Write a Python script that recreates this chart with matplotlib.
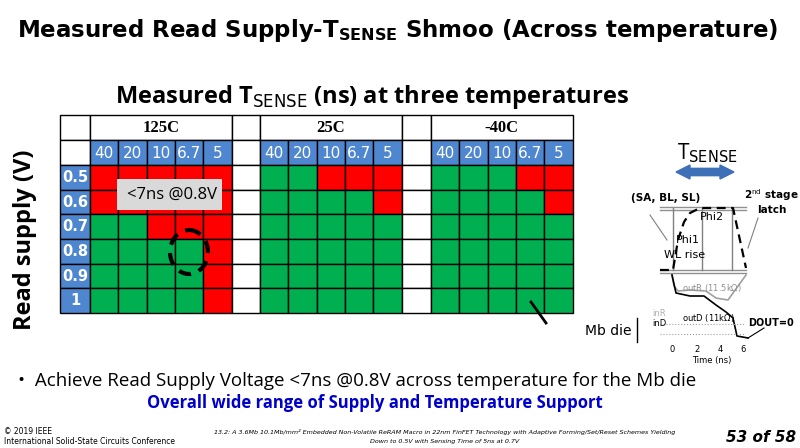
import matplotlib.pyplot as plt
from matplotlib.patches import Rectangle, Ellipse, FancyArrow
import numpy as np

temps = ["125C", "25C", "-40C"]
times = ["40", "20", "10", "6.7", "5"]
supplies = ["0.5", "0.6", "0.7", "0.8", "0.9", "1"]
# 1 = fail (red), 0 = pass (green); rows = supply, cols = time
fail_125 = [[1, 1, 1, 1, 1],
            [1, 1, 1, 1, 1],
            [0, 0, 1, 1, 1],
            [0, 0, 0, 0, 1],
            [0, 0, 0, 0, 1],
            [0, 0, 0, 0, 1]]
fail_25 = [[0, 0, 1, 1, 1],
           [0, 0, 0, 0, 1],
           [0, 0, 0, 0, 0],
           [0, 0, 0, 0, 0],
           [0, 0, 0, 0, 0],
           [0, 0, 0, 0, 0]]
fail_m40 = [[0, 0, 0, 1, 1],
            [0, 0, 0, 0, 1],
            [0, 0, 0, 0, 0],
            [0, 0, 0, 0, 0],
            [0, 0, 0, 0, 0],
            [0, 0, 0, 0, 0]]
fails = [fail_125, fail_25, fail_m40]

RED, GREEN, BLUE = "#FF0000", "#00B050", "#4F86D0"

fig = plt.figure(figsize=(8, 4.48), dpi=100)
ax = fig.add_axes([0, 0, 1, 1])
ax.set_xlim(0, 800)
ax.set_ylim(448, 0)
ax.axis("off")

def cell(x, y, w, h, fc, lw=1.0):
    ax.add_patch(Rectangle((x, y), w, h, facecolor=fc, edgecolor="black", lw=lw))

# title
ax.text(398, 30, r"Measured Read Supply-T$_{\mathbf{SENSE}}$ Shmoo (Across temperature)",
        ha="center", va="center", fontsize=16.5, fontweight="bold", family="DejaVu Sans")
ax.text(372, 97, r"Measured T$_{\mathrm{SENSE}}$ (ns) at three temperatures",
        ha="center", va="center", fontsize=17, fontweight="bold", family="Open Sans")
ax.text(25, 240, "Read supply (V)", rotation=90, ha="center", va="center",
        fontsize=17, fontweight="bold", family="Open Sans")

# grid
x0, lab_w, cw = 60, 30, 28.3
y_head, y_sub, y_data, rh = 115, 140, 165, 24.7
block_x = [90, 260, 431]
# label column
cell(x0, y_head, lab_w, 25, "white")
cell(x0, y_sub, lab_w, 25, "white")
for r, s in enumerate(supplies):
    yy = y_data + r * rh
    cell(x0, yy, lab_w, rh, BLUE)
    ax.text(x0 + lab_w / 2, yy + rh / 2, s, color="white", ha="center", va="center",
            fontsize=10.5, fontweight="bold")
for b, (bx, t) in enumerate(zip(block_x, temps)):
    cell(bx, y_head, 5 * cw, 25, "white")
    ax.text(bx + 2.5 * cw, y_head + 13, t, ha="center", va="center", fontsize=12,
            fontweight="bold", family="Liberation Serif")
    for c, tm in enumerate(times):
        cell(bx + c * cw, y_sub, cw, 25, BLUE)
        ax.text(bx + c * cw + cw / 2, y_sub + 13, tm, color="white", ha="center",
                va="center", fontsize=11)
        for r in range(len(supplies)):
            cell(bx + c * cw, y_data + r * rh, cw, rh, RED if fails[b][r][c] else GREEN)
    if b < 2:
        gx = bx + 5 * cw
        gw = block_x[b + 1] - gx
        cell(gx, y_head, gw, 25, "white")
        cell(gx, y_sub, gw, 25, "white")
        for r in range(len(supplies)):
            cell(gx, y_data + r * rh, gw, rh, "white")

# annotation box and circle
ax.add_patch(Rectangle((117, 179), 105, 31, facecolor="#D9D9D9", edgecolor="none"))
ax.text(127, 195, "<7ns @0.8V", ha="left", va="center", fontsize=12, family="Open Sans")
ax.add_patch(Ellipse((189, 252), 38, 44, fill=False, ls=(0, (3, 2)), lw=3, color="black"))
ax.plot([531, 546], [302, 323], color="black", lw=2)
ax.text(608, 331, "Mb die", ha="center", va="center", fontsize=10)
ax.plot([637, 637], [318, 342], color="black", lw=1)

# timing diagram
ax.text(707, 153, r"T$_{\mathrm{SENSE}}$", ha="center", va="center", fontsize=15, family="Open Sans")
ax.add_patch(FancyArrow(690, 172, 30, 0, width=7, head_width=14, head_length=14,
                        length_includes_head=False, color="#3E70B8"))
ax.add_patch(FancyArrow(720, 172, -30, 0, width=7, head_width=14, head_length=14,
                        length_includes_head=False, color="#3E70B8"))
ax.text(666, 198, "(SA, BL, SL)", ha="center", va="center", fontsize=7.5, fontweight="bold")
ax.text(771, 195, r"2$^{\mathrm{nd}}$ stage", ha="center", va="center", fontsize=7.5, fontweight="bold")
ax.text(772, 210, "latch", ha="center", va="center", fontsize=7.5, fontweight="bold")
for yy in [207, 210, 270, 273]:
    ax.plot([660, 746], [yy, yy], color="#909090", lw=1)
for xx in [673, 702, 732]:
    ax.plot([xx, xx], [208, 270], color="#808080", lw=1)
ax.plot([660, 673, 678, 684, 690, 700, 733, 746], [270, 270, 240, 222, 213, 208, 208, 268],
        color="black", lw=1.6, ls=(0, (4, 2.5)))
ax.text(712, 217, "Phi2", ha="center", va="center", fontsize=8)
ax.text(688, 240, "Phi1", ha="center", va="center", fontsize=8)
ax.text(685, 255, "WL rise", ha="center", va="center", fontsize=8)
ax.plot([650, 667], [215, 240], color="#808080", lw=0.8)
ax.plot([758, 748], [218, 248], color="#808080", lw=0.8)
ax.plot([672, 674, 678, 690, 706, 716, 728, 746], [275, 286, 291, 290, 291, 298, 300, 275],
        color="#A0A0A0", lw=1.2)
ax.plot([672, 676, 690, 704, 716, 726, 733, 737, 748], [275, 293, 296, 296, 305, 312, 318, 336, 338],
        color="black", lw=1.2)
ax.plot([660, 745], [324, 324], color="#A0A0A0", lw=0.8, ls=":")
ax.plot([660, 745], [334, 334], color="#A0A0A0", lw=0.8, ls=":")
ax.text(712, 288, "outR (11.5k$\\Omega$)", ha="center", va="center", fontsize=6, color="#909090")
ax.text(708, 318, "outD (11k$\\Omega$)", ha="center", va="center", fontsize=6)
ax.text(659, 313, "inR", ha="center", va="center", fontsize=6, color="#B0B0B0")
ax.text(659, 323, "inD", ha="center", va="center", fontsize=6)
ax.text(771, 323, "DOUT=0", ha="center", va="center", fontsize=7, fontweight="bold")
ax.plot([764, 748], [328, 338], color="black", lw=0.8)
for xx, lab in zip([672, 697, 720, 743], ["0", "2", "4", "6"]):
    ax.text(xx, 349, lab, ha="center", va="center", fontsize=6)
ax.text(712, 360, "Time (ns)", ha="center", va="center", fontsize=6)

# bottom text
ax.text(18, 381, "\u2022  Achieve Read Supply Voltage <7ns @0.8V across temperature for the Mb die",
        ha="left", va="center", fontsize=13.5, family="Open Sans")
ax.text(375, 403, "Overall wide range of Supply and Temperature Support", ha="center",
        va="center", fontsize=12, fontweight="bold", color="#0000CC", family="Open Sans")
ax.text(4, 432, "\u00a9 2019 IEEE", ha="left", va="center", fontsize=5.5)
ax.text(4, 441, "International Solid-State Circuits Conference", ha="left", va="center", fontsize=5.5)
ax.text(445, 432, "13.2: A 3.6Mb 10.1Mb/mm\u00b2 Embedded Non-Volatile ReRAM Macro in 22nm FinFET "
        "Technology with Adaptive Forming/Set/Reset Schemes Yielding",
        ha="center", va="center", fontsize=4.6, style="italic")
ax.text(445, 441, "Down to 0.5V with Sensing Time of 5ns at 0.7V", ha="center", va="center",
        fontsize=4.6, style="italic")
ax.text(796, 437, "53 of 58", ha="right", va="center", fontsize=11, fontweight="bold", style="italic")

fig.savefig("out.png", dpi=100)
